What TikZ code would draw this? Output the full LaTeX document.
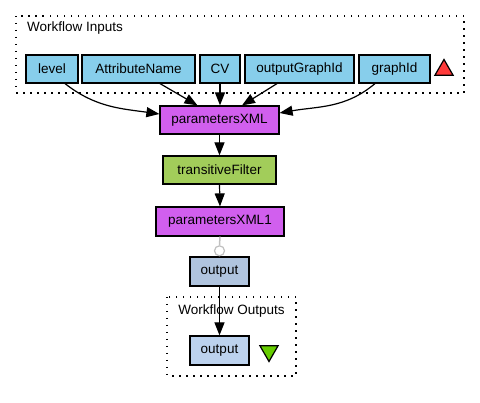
\documentclass[tikz,border=0pt]{standalone}
\usepackage{fontspec}
\setmainfont{Liberation Sans}
\usetikzlibrary{arrows.meta,shapes.geometric,positioning}
\definecolor{inpc}{HTML}{87CEEB}
\definecolor{orchid}{HTML}{D15FEE}
\definecolor{wsdl}{HTML}{A2CD5A}
\definecolor{outa}{HTML}{B0C4DE}
\definecolor{outb}{HTML}{BCD2EE}
\definecolor{redtri}{HTML}{FF3B3B}
\definecolor{greentri}{HTML}{66CD00}
\definecolor{grayline}{HTML}{C0C0C0}
\tikzset{
  box/.style={draw=black, line width=1.2pt, inner sep=0pt, minimum height=28pt,
    font=\fontsize{13.5}{16}\selectfont},
  arr/.style={draw=black, line width=1.2pt, -{Triangle[length=13pt,width=10pt]}},
  frame/.style={draw=black, line width=1.5pt, dash pattern=on 1.5pt off 5.5pt},
  lbl/.style={font=\fontsize{13.5}{16}\selectfont, inner sep=0pt},
  tri/.style={regular polygon, regular polygon sides=3, draw=black, line width=1.2pt, inner sep=0pt, minimum size=21pt}
}
\begin{document}
\begin{tikzpicture}[x=1pt,y=-1pt]
\useasboundingbox (0,0) rectangle (480,403);
% frames
\draw[frame] (16,16) rectangle (464,93);
\node[lbl, anchor=west] (tin) at (27,28) {Workflow Inputs};
\draw[frame] (167,297) rectangle (296,376);
\node[lbl] (tout) at (231.5,311) {Workflow Outputs};
% inputs
\node[box, fill=inpc, minimum width=52pt] (level) at (52,69) {level};
\node[box, fill=inpc, minimum width=113pt] (attr) at (138.5,69) {AttributeName};
\node[box, fill=inpc, minimum width=40pt] (cv) at (220,69) {CV};
\node[box, fill=inpc, minimum width=109pt] (ogid) at (299.5,69) {outputGraphId};
\node[box, fill=inpc, minimum width=71pt] (gid) at (394.5,69) {graphId};
\node[tri, fill=redtri] (rt) at (444,70) {};
% processors
\node[box, fill=orchid, minimum width=119pt] (pxml) at (219.5,120) {parametersXML};
\node[box, fill=wsdl, minimum width=113pt] (tf) at (219.5,170) {transitiveFilter};
\node[box, fill=orchid, minimum width=128pt, minimum height=29pt] (pxml1) at (220,221.5) {parametersXML1};
\node[box, fill=outa, minimum width=59pt, minimum height=29pt] (out1) at (219.5,271.5) {output};
\node[box, fill=outb, minimum width=59pt, minimum height=29pt] (out2) at (219.5,350.5) {output};
\node[tri, fill=greentri, shape border rotate=180] (gt) at (269,351) {};
% edges
\draw[arr] ([xshift=13pt]level.south) to[out=-38,in=172] ([yshift=6pt]pxml.west);
\draw[arr] ([xshift=21.5pt]attr.south) -- ([xshift=-22pt]pxml.north);
\draw[arr] (cv.south) -- ([xshift=0.5pt]pxml.north);
\draw[arr] ([xshift=-22.5pt]ogid.south) -- ([xshift=22.5pt]pxml.north);
\draw[arr] ([xshift=-19.5pt]gid.south) to[out=-140,in=10] ([yshift=7pt]pxml.east);
\draw[arr] (pxml.south) -- (tf.north);
\draw[arr] (tf.south) -- (pxml1.north);
\node[circle, draw=grayline, fill=white, line width=1.2pt, minimum size=10pt, inner sep=0pt, anchor=south] (port) at (out1.north) {};
\draw[draw=grayline, line width=1.5pt] (pxml1.south) -- (port.north);
\draw[arr] (out1.south) -- (out2.north);
\end{tikzpicture}
\end{document}
